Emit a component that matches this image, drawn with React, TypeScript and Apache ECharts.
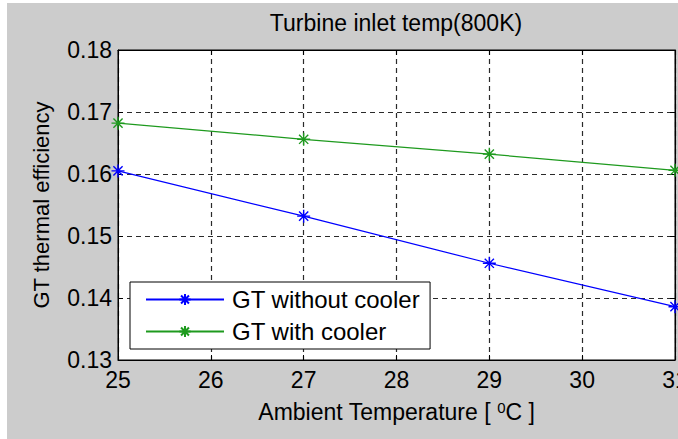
import React, { useEffect, useRef } from "react";
import * as echarts from "echarts";

const temperatures = [25, 27, 29, 31];
const withoutCooler = [0.1605, 0.1532, 0.1456, 0.1386];
const withCooler = [0.1682, 0.1656, 0.1632, 0.1606];
const seriesNames = ["GT without cooler", "GT with cooler"];
const titleText = "Turbine inlet temp(800K)";
const yName = "GT thermal efficiency";

const FONT = "'Liberation Sans', Arial, sans-serif";
const STAR = "path://M6,0L6,12M0,6L12,6M1.76,1.76L10.24,10.24M1.76,10.24L10.24,1.76M5.2,5.2L6.8,5.2L6.8,6.8L5.2,6.8Z";

export default function App() {
  const ref = useRef<HTMLDivElement>(null);
  useEffect(() => {
    if (!ref.current) return;
    const chart = echarts.init(ref.current, undefined, { renderer: "svg" });
    const gridLine = { show: true, lineStyle: { color: "#2a2a2a", width: 1.2, type: [5, 4] as any } };
    const axisLine = { show: true, lineStyle: { color: "#000", width: 1 } };
    const tick = { show: true, inside: true, length: 5, lineStyle: { color: "#000" } };
    const mk = (name: string, vals: number[], color: string) => ({
      name,
      type: "line",
      xAxisIndex: 0,
      yAxisIndex: 0,
      data: temperatures.map((t, i) => [t, vals[i]]),
      symbol: STAR,
      symbolSize: 13,
      showSymbol: true,
      lineStyle: { color, width: 1.2 },
      itemStyle: { color, borderColor: color, borderWidth: 1.4 },
    });
    chart.setOption({
      animation: false,
      backgroundColor: "#cccccc",
      textStyle: { fontFamily: FONT },
      title: {
        text: titleText,
        left: 389,
        top: 8,
        padding: 0,
        textAlign: "center",
        textStyle: { fontFamily: FONT, fontSize: 23, fontWeight: "normal", color: "#000" },
      },
      grid: {
        left: 111,
        top: 47,
        right: 3,
        bottom: 79,
        outerBoundsMode: "none",
        containLabel: false,
        show: true,
        backgroundColor: "#ffffff",
        borderColor: "#000",
        borderWidth: 1,
      },
      legend: {
        orient: "vertical",
        left: 123,
        top: 279,
        data: seriesNames,
        itemWidth: 78,
        itemHeight: 14,
        itemGap: 7,
        padding: [5, 10, 5, 15],
        backgroundColor: "#ffffff",
        borderColor: "#000",
        borderWidth: 1,
        borderRadius: 0,
        textStyle: { fontFamily: FONT, fontSize: 24, color: "#000", padding: [0, 0, 0, 3], lineHeight: 25 },
      },
      xAxis: [
        {
          type: "value",
          min: 25,
          max: 31,
          interval: 1,
          position: "bottom",
          axisLine,
          axisTick: tick,
          splitLine: gridLine,
          axisLabel: {
            show: true,
            showMinLabel: true,
            showMaxLabel: true,
            margin: 8,
            fontFamily: FONT,
            fontSize: 23,
            color: "#000",
          },
          name: "Ambient Temperature [ {sup|0}C ]",
          nameLocation: "middle",
          nameGap: 40,
          nameTextStyle: {
            fontFamily: FONT,
            fontSize: 23,
            color: "#000",
            rich: { sup: { fontFamily: FONT, fontSize: 15, color: "#000", verticalAlign: "top" } },
          },
        },
        {
          type: "value",
          min: 25,
          max: 31,
          interval: 1,
          position: "top",
          axisLine,
          axisTick: tick,
          splitLine: { show: false },
          axisLabel: { show: false },
        },
      ],
      yAxis: [
        {
          type: "value",
          min: 0.13,
          max: 0.18,
          interval: 0.01,
          position: "left",
          axisLine,
          axisTick: tick,
          splitLine: gridLine,
          axisLabel: {
            show: true,
            margin: 6,
            fontFamily: FONT,
            fontSize: 23,
            color: "#000",
            formatter: (v: number) => v.toFixed(2),
          },
          name: yName,
          nameLocation: "middle",
          nameGap: 66,
          nameTextStyle: { fontFamily: FONT, fontSize: 22, color: "#000" },
        },
        {
          type: "value",
          min: 0.13,
          max: 0.18,
          interval: 0.01,
          position: "right",
          axisLine,
          axisTick: tick,
          splitLine: { show: false },
          axisLabel: { show: false },
        },
      ],
      series: [mk(seriesNames[0], withoutCooler, "#0000ff"), mk(seriesNames[1], withCooler, "#1e9a1e")],
    });
    return () => chart.dispose();
  }, []);
  return (
    <div style={{ position: "fixed", left: 0, top: 0, width: 678, height: 439, background: "#ffffff" }}>
      <div ref={ref} style={{ position: "absolute", left: 7, top: 3, width: 671, height: 436 }} />
    </div>
  );
}
